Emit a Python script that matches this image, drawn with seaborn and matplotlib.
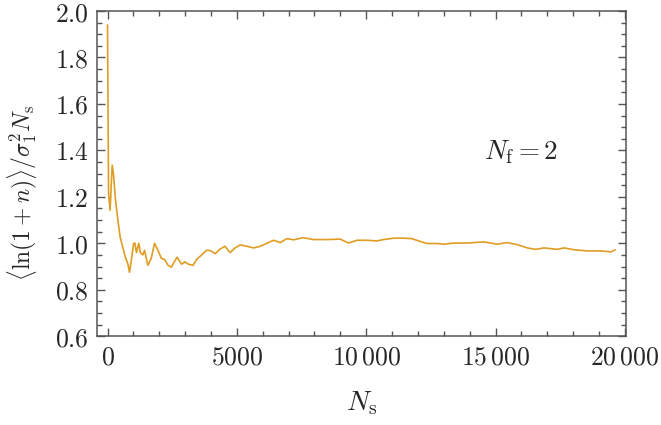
import matplotlib
matplotlib.use('Agg')
import matplotlib.pyplot as plt
import seaborn as sns
import pandas as pd
from matplotlib.ticker import MultipleLocator, FuncFormatter

# values
n_samples = [0, 40, 100, 180, 230, 310, 400, 490, 590, 690, 790, 850, 920, 1010,
             1060, 1120, 1210, 1270, 1370, 1430, 1560, 1690, 1820, 1950, 2080, 2210,
             2340, 2470, 2530, 2690, 2860, 2990, 3120, 3310, 3440, 3640, 3830, 3990,
             4160, 4350, 4540, 4740, 4930, 5130, 5390, 5640, 5900, 6160, 6420, 6680,
             6930, 7190, 7570, 7960, 8480, 8990, 9320, 9640, 10030, 10410, 10670,
             11060, 11450, 11770, 12030, 12350, 12740, 13000, 13390, 13900, 14550,
             15060, 15450, 15840, 16230, 16550, 16870, 17390, 17650, 18040, 18550,
             19070, 19460, 19630]
ratio = [1.94, 1.215, 1.142, 1.336, 1.30, 1.185, 1.10, 1.026, 0.983, 0.94, 0.91,
         0.875, 0.927, 1.0, 1.0, 0.96, 1.0, 0.96, 0.95, 0.97, 0.905, 0.935, 1.0,
         0.97, 0.935, 0.93, 0.905, 0.897, 0.91, 0.94, 0.91, 0.92, 0.91, 0.905,
         0.93, 0.95, 0.97, 0.968, 0.955, 0.975, 0.987, 0.96, 0.98, 0.993, 0.987,
         0.98, 0.987, 1.0, 1.013, 1.003, 1.02, 1.015, 1.024, 1.016, 1.016, 1.018,
         1.001, 1.013, 1.013, 1.01, 1.016, 1.022, 1.022, 1.02, 1.01, 0.999, 0.999,
         0.996, 1.001, 1.001, 1.006, 0.996, 1.003, 0.994, 0.98, 0.974, 0.98,
         0.974, 0.98, 0.972, 0.967, 0.967, 0.963, 0.972]

df = pd.DataFrame({'Ns': n_samples, 'ratio': ratio})

sns.set_style('ticks')
plt.rcParams['mathtext.fontset'] = 'cm'
plt.rcParams['font.family'] = ['DejaVu Serif']

frame = '#555555'
fig = plt.figure(figsize=(6.61, 4.25), dpi=100)
ax = fig.add_axes([0.147, 0.209, 0.800, 0.765])

sns.lineplot(data=df, x='Ns', y='ratio', ax=ax, color='#E19C24', lw=1.2,
             estimator=None, sort=False)

ax.set_xlim(-400, 20040)
ax.set_ylim(0.6, 2.0)
ax.xaxis.set_major_locator(MultipleLocator(5000))
ax.xaxis.set_minor_locator(MultipleLocator(1000))
ax.yaxis.set_major_locator(MultipleLocator(0.2))
ax.yaxis.set_minor_locator(MultipleLocator(0.05))


def fmt_x(v, pos):
    v = int(round(v))
    if v >= 10000:
        return r'$%d\,%03d$' % (v // 1000, v % 1000)
    return r'$%d$' % v


ax.xaxis.set_major_formatter(FuncFormatter(fmt_x))
ax.yaxis.set_major_formatter(FuncFormatter(lambda v, p: r'$%.1f$' % v))

for s in ax.spines.values():
    s.set_visible(True)
    s.set_color(frame)
    s.set_linewidth(1.1)
ax.tick_params(which='both', direction='in', top=True, right=True,
               color=frame, labelsize=18.5, width=1.0)
ax.tick_params(which='major', length=6, pad=6)
ax.tick_params(which='minor', length=3.5)

ax.set_xlabel(r'$N_\mathrm{s}$', fontsize=20, labelpad=14)
ax.set_ylabel(r'$\langle \ln(1+n)\rangle/\sigma_1^2 N_\mathrm{s}$', fontsize=17)
ax.yaxis.set_label_coords(-0.11, 0.44)
ax.text(15970, 1.361, r'$N_\mathrm{f}=2$', fontsize=19.5, ha='center', va='baseline')

plt.savefig('out.png', dpi=100)
plt.close()
